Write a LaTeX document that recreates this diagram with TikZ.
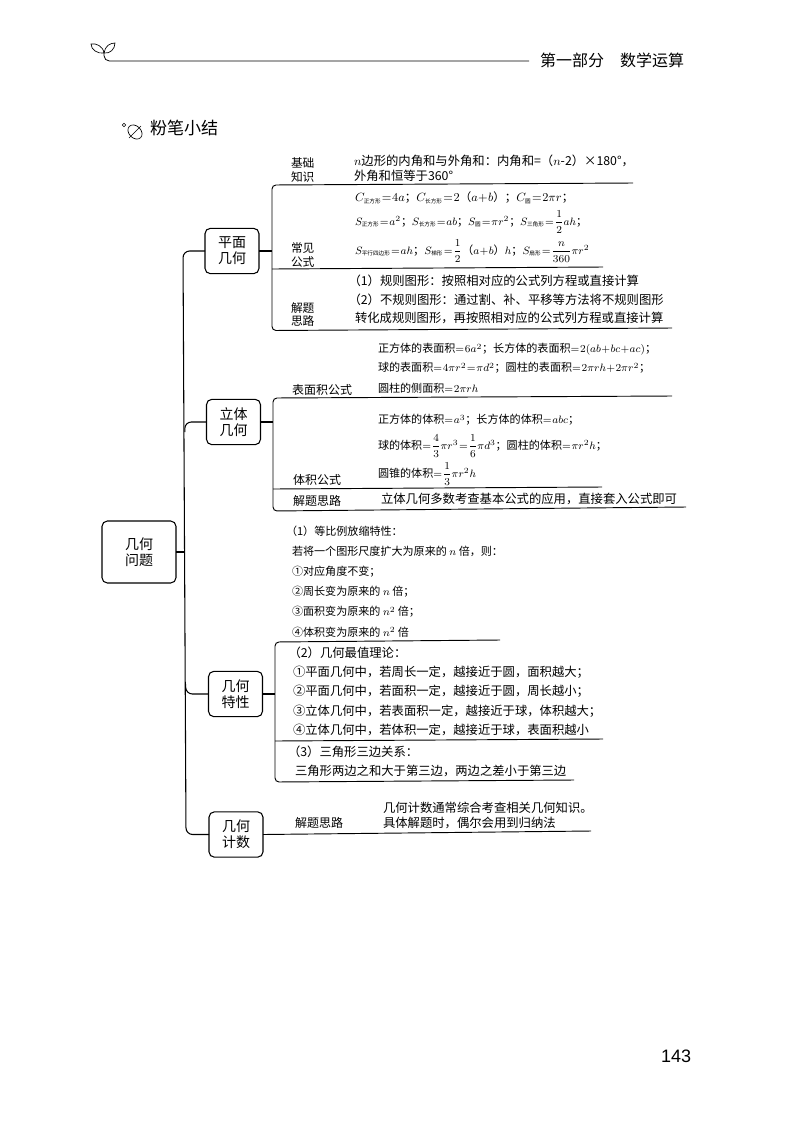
\documentclass[tikz,border=0pt]{standalone}
\usepackage{fontspec}
\usepackage{amsmath}
\setmainfont{Noto Sans CJK SC}
\newfontfamily\pagenum{Liberation Sans}
\usetikzlibrary{positioning}
\tikzset{
    every node/.style={inner sep=0pt, outer sep=0pt},
    topicbox/.style={draw, rounded corners=4pt, line width=0.8pt, align=center, font=\fontsize{10.5}{12}\selectfont},
    side/.style={anchor=west, align=left, font=\fontsize{8.8}{10.2}\selectfont},
    body/.style={anchor=west, align=left, font=\fontsize{9.25}{11.2}\selectfont},
    small/.style={anchor=west, align=left, font=\fontsize{8.3}{10}\selectfont},
    formula/.style={anchor=west, align=left, font=\fontsize{8.6}{10}\selectfont},
    rule/.style={line width=0.7pt},
    branch/.style={line width=0.8pt, rounded corners=5pt},
}
\newcommand{\tagsub}[1]{\text{\fontsize{4.2}{4.2}\selectfont #1}}
\thickmuskip=1mu
\medmuskip=0.5mu
\begin{document}
\begin{tikzpicture}[x=0.75pt,y=-0.75pt]
  \useasboundingbox (0,0) rectangle (800,1147);

  % page head
  \coordinate (head_a) at (104,53);
  \coordinate (head_c) at (529,61);
  \draw[line width=0.6pt, rounded corners=4pt] (head_a) |- (head_c);
  \draw[line width=0.5pt] (head_a) .. controls (98,54) and (91,50) .. (91,44) .. controls (96,43) and (103,46) .. (head_a);
  \draw[line width=0.5pt] (head_a) .. controls (110,54) and (115,49) .. (115,43) .. controls (110,43) and (105,46) .. (head_a);
  \node[anchor=west, font=\fontsize{12}{14}\selectfont] (head) at (540,60) {第一部分\hspace{1em}数学运算};

  % small heading
  \draw[line width=0.5pt, rotate around={-45:(135,132)}] (135,132) ellipse (8 and 6);
  \draw[line width=0.5pt] (129,138) -- (141,126);
  \draw[line width=0.4pt] (124,125) circle (1.8);
  \node[anchor=west, font=\fontsize{12.8}{14}\selectfont] (title) at (150,128) {粉笔小结};

  % topics
  \node[topicbox, minimum width=55.5pt, minimum height=46.5pt] (geom) at (139,552) {几何\\问题};
  \node[topicbox, minimum width=40.5pt, minimum height=34pt] (plane) at (232,251) {平面\\几何};
  \node[topicbox, minimum width=40.5pt, minimum height=34pt] (solid) at (233.5,422) {立体\\几何};
  \node[topicbox, minimum width=40.5pt, minimum height=34pt] (prop) at (235.5,694) {几何\\特性};
  \node[topicbox, minimum width=40.5pt, minimum height=34pt] (count) at (236,834.5) {几何\\计数};

  \coordinate (trunk_a) at (183,251);
  \coordinate (trunk_b) at (186,834.5);
  \draw[branch] (plane.west) -- (trunk_a) -- (trunk_b) -- (count.west);
  \draw[line width=0.8pt] (geom.east) -- (185,552);
  \draw[branch] (solid.west) -- (184.7,422) -- (184.9,432);
  \draw[branch] (prop.west) -- (185.8,694) -- (185.6,684);

  % plane geometry
  \coordinate (p_top) at (272,185);
  \coordinate (p_mid) at (272,269);
  \coordinate (p_bot) at (272,330.5);
  \draw[line width=0.8pt] (plane.east) -- (plane.east -| p_top);
  \draw[rule, rounded corners=3pt] (633,183) -- (p_top) -- (p_bot) -- (672,328);
  \draw[rule] (603,267) -- (p_mid);
  \node[side] (p_a) at (291,170) {基础\\知识};
  \node[side] (p_b) at (291,255) {常见\\公式};
  \node[side] (p_c) at (291,314.5) {解题\\思路};
  \node[body] (p_a_t) at (354,168) {$n$边形的内角和与外角和：内角和=（$n$-2）×180°，\\外角和恒等于360°};
  \node[formula] (p_b_1) at (355,198) {$C_{\tagsub{正方形}}=4a$；$C_{\tagsub{长方形}}=2$（$a+b$）；$C_{\tagsub{圆}}=2\pi r$；};
  \node[formula, font=\fontsize{8.2}{10}\selectfont] (p_b_2) at (355,222) {$S_{\tagsub{正方形}}=a^2$；$S_{\tagsub{长方形}}=ab$；$S_{\tagsub{圆}}=\pi r^2$；$S_{\tagsub{三角形}}=\dfrac{1}{2}ah$；};
  \node[formula, font=\fontsize{8.4}{10}\selectfont] (p_b_3) at (355,251) {$S_{\tagsub{平行四边形}}=ah$；$S_{\tagsub{梯形}}=\dfrac{1}{2}$（$a+b$）$h$；$S_{\tagsub{扇形}}=\dfrac{n}{360}\pi r^2$};
  \node[body] (p_c_1) at (348.5,281) {（1）规则图形：按照相对应的公式列方程或直接计算};
  \node[body] (p_c_2) at (348.5,300) {（2）不规则图形：通过割、补、平移等方法将不规则图形};
  \node[body] (p_c_3) at (355,318) {转化成规则图形，再按照相对应的公式列方程或直接计算};

  % solid geometry
  \coordinate (s_top) at (273,398);
  \coordinate (s_mid) at (273,489);
  \coordinate (s_bot) at (273,511);
  \draw[line width=0.8pt] (solid.east) -- (solid.east -| s_top);
  \draw[rule, rounded corners=3pt] (672,396) -- (s_top) -- (s_bot) -- (686,507);
  \draw[rule] (602,487) -- (s_mid);
  \node[side, font=\fontsize{9}{10}\selectfont] (s_a) at (292,390) {表面积公式};
  \node[side, font=\fontsize{9}{10}\selectfont] (s_b) at (293,480) {体积公式};
  \node[side, font=\fontsize{9}{10}\selectfont] (s_c) at (293,501) {解题思路};
  \node[small] (s_a_1) at (378,349.5) {正方体的表面积$=6a^2$；长方体的表面积$=2(ab+bc+ac)$；};
  \node[small] (s_a_2) at (378,368) {球的表面积$=4\pi r^2=\pi d^2$；圆柱的表面积$=2\pi rh+2\pi r^2$；};
  \node[small] (s_a_3) at (378,388) {圆柱的侧面积$=2\pi rh$};
  \node[small] (s_b_1) at (378,420) {正方体的体积$=a^3$；长方体的体积$=abc$；};
  \node[small] (s_b_2) at (378,446) {球的体积$=\dfrac{4}{3}\pi r^3=\dfrac{1}{6}\pi d^3$；圆柱的体积$=\pi r^2h$；};
  \node[small] (s_b_3) at (378,474) {圆锥的体积$=\dfrac{1}{3}\pi r^2h$};
  \node[body] (s_c_t) at (381,499) {立体几何多数考查基本公式的应用，直接套入公式即可};

  % properties
  \coordinate (g_top) at (275,642);
  \coordinate (g_mid) at (275,741);
  \coordinate (g_bot) at (275,782);
  \draw[line width=0.8pt] (prop.east) -- (prop.east -| g_top);
  \draw[rule, rounded corners=3pt] (500,640) -- (g_top) -- (g_bot) -- (574,780);
  \draw[rule] (603,739) -- (g_mid);
  \node[small] (g_1) at (286,531) {（1）等比例放缩特性：};
  \node[small] (g_2) at (292,551) {若将一个图形尺度扩大为原来的 $n$ 倍，则：};
  \node[small] (g_3) at (292,572) {①对应角度不变；};
  \node[small] (g_4) at (292,592) {②周长变为原来的 $n$ 倍；};
  \node[small] (g_5) at (292,612) {③面积变为原来的 $n^2$ 倍；};
  \node[small] (g_6) at (292,632) {④体积变为原来的 $n^2$ 倍};
  \node[body] (g_7) at (288.5,653) {（2）几何最值理论：};
  \node[body] (g_8) at (293,672) {①平面几何中，若周长一定，越接近于圆，面积越大；};
  \node[body] (g_9) at (293,691) {②平面几何中，若面积一定，越接近于圆，周长越小；};
  \node[body] (g_10) at (293,711) {③立体几何中，若表面积一定，越接近于球，体积越大；};
  \node[body] (g_11) at (293,730) {④立体几何中，若体积一定，越接近于球，表面积越小};
  \node[body] (g_12) at (288,752) {（3）三角形三边关系：};
  \node[body] (g_13) at (295,771) {三角形两边之和大于第三边，两边之差小于第三边};

  % counting
  \coordinate (c_end) at (591,831);
  \draw[rule] (count.east) -- (c_end);
  \node[side, font=\fontsize{9}{10}\selectfont] (c_a) at (295,823) {解题思路};
  \node[body] (c_t) at (383,815) {几何计数通常综合考查相关几何知识。\\具体解题时，偶尔会用到归纳法};

  \node[anchor=west, font=\pagenum\fontsize{13.5}{15}\selectfont] (pageno) at (661,1056) {143};
\end{tikzpicture}
\end{document}
